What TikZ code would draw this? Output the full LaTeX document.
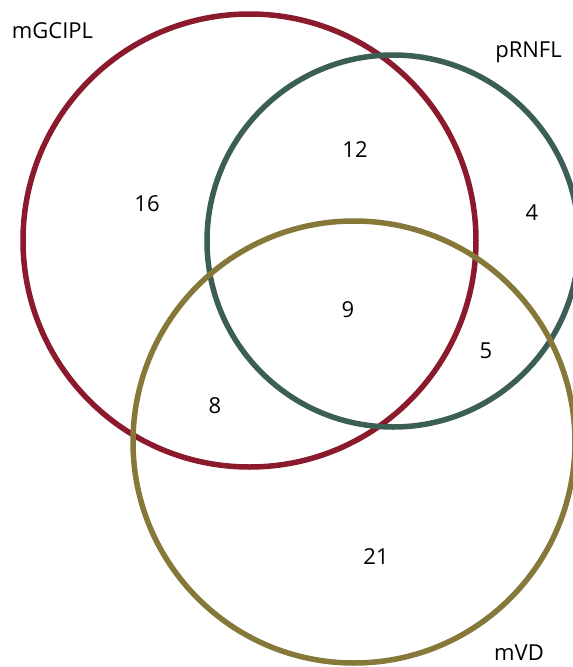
\documentclass[tikz,border=0pt]{standalone}
\usepackage{fontspec}
\setmainfont{Open Sans}
\definecolor{cred}{HTML}{8A1A2C}
\definecolor{cgreen}{HTML}{3B5E55}
\definecolor{colive}{HTML}{857838}
\begin{document}
\begin{tikzpicture}[x=1pt,y=-1pt,
  ring/.style={line width=5.5pt},
  lbl/.style={font=\fontsize{22}{24}\selectfont, inner sep=0pt},
  num/.style={font=\fontsize{22}{24}\selectfont, inner sep=0pt}]
\useasboundingbox (0,0) rectangle (573,667);
\begin{scope}
\clip (0,0) rectangle (573,667);
\draw[ring, cred] (249.5,240.5) circle[radius=226.5];
\draw[ring, cgreen] (393,241) circle[radius=186];
\draw[ring, colive] (354,442) circle[radius=221];
\end{scope}
\node[lbl] (mg) at (52.5,31) {mGCIPL};
\node[lbl] (pr) at (528.5,52) {pRNFL};
\node[lbl] (mv) at (519,653) {mVD};
\node[num] (n16) at (147,204) {16};
\node[num] (n12) at (355,150) {12};
\node[num] (n4) at (532,213) {4};
\node[num] (n9) at (348,310) {9};
\node[num] (n5) at (486,351) {5};
\node[num] (n8) at (215,406) {8};
\node[num] (n21) at (376,557) {21};
\end{tikzpicture}
\end{document}
